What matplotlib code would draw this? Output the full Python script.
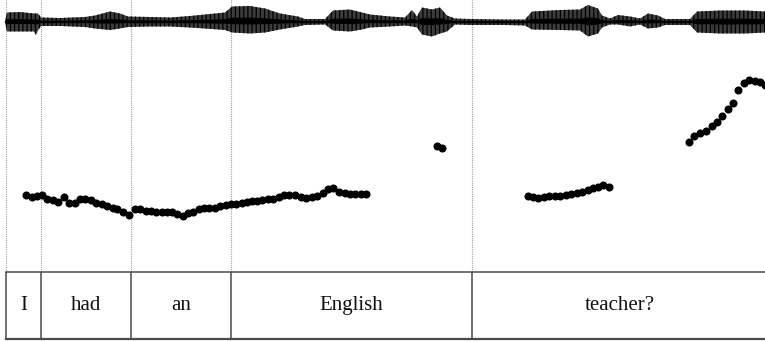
import matplotlib
matplotlib.use("Agg")
import matplotlib.pyplot as plt
import numpy as np

# ---------------- data ----------------
# word tier (boundaries in seconds) and labels
words = ["I", "had", "an", "English", "teacher?"]
word_bounds = [0.015, 0.1025, 0.3275, 0.5775, 1.18, 1.92]

# pitch track segments (time s, F0 Hz)
p1_t = [0.065, 0.079, 0.092, 0.104, 0.118, 0.132, 0.146, 0.161, 0.173, 0.188,
        0.200, 0.213, 0.227, 0.240, 0.254, 0.267, 0.282, 0.293, 0.308, 0.322]
p1_f = [216, 213, 215, 216, 209, 207, 204, 213, 201, 202,
        209, 208, 206, 202, 199, 196, 193, 190, 184, 179]

p2_t = [0.338, 0.350, 0.364, 0.378, 0.390, 0.404, 0.417, 0.429, 0.443, 0.457,
        0.471, 0.483, 0.498, 0.510, 0.523, 0.538, 0.550, 0.564, 0.578, 0.590,
        0.604, 0.617, 0.629, 0.642, 0.656, 0.671, 0.683, 0.698, 0.711, 0.723,
        0.738, 0.752, 0.765, 0.779, 0.793, 0.807, 0.819, 0.833, 0.848, 0.863,
        0.875, 0.888, 0.902, 0.915]
p2_f = [190, 190, 187, 186, 185, 185, 185, 184, 181, 178,
        183, 185, 191, 192, 192, 193, 195, 198, 200, 200,
        201, 203, 205, 205, 207, 209, 209, 213, 216, 216,
        216, 212, 211, 212, 214, 219, 227, 228, 222, 219,
        218, 218, 217, 218]

p3_t = [1.092, 1.104]
p3_f = [305, 303]

p4_t = [1.319, 1.333, 1.346, 1.360, 1.373, 1.388, 1.400, 1.414, 1.428, 1.442,
        1.456, 1.469, 1.483, 1.496, 1.508, 1.523]
p4_f = [214, 212, 211, 213, 214, 215, 215, 216, 218, 220,
        222, 225, 228, 231, 235, 230]

p5_t = [1.723, 1.736, 1.750, 1.764, 1.779, 1.792, 1.806, 1.819, 1.833, 1.846,
        1.859, 1.873, 1.887, 1.900, 1.913]
p5_f = [314, 324, 329, 333, 342, 350, 361, 374, 385, 408,
        421, 427, 425, 423, 418]

# waveform envelope (time s, positive / negative amplitude)
wave_t = [0.0125, 0.0175, 0.050, 0.085, 0.090, 0.095, 0.1025, 0.150, 0.2125, 0.2375,
          0.275, 0.300, 0.320, 0.375, 0.425, 0.475, 0.5125, 0.5625, 0.580, 0.625,
          0.6625, 0.700, 0.745, 0.7625, 0.8125, 0.8325, 0.875, 0.905, 0.925, 0.975,
          1.0125, 1.030, 1.0425, 1.055, 1.080, 1.100, 1.1175, 1.1375, 1.175, 1.2625,
          1.3125, 1.330, 1.400, 1.450, 1.470, 1.495, 1.505, 1.525, 1.545, 1.575,
          1.600, 1.620, 1.645, 1.6625, 1.725, 1.7425, 1.800, 1.8625, 1.9125]
wave_hi = [0, 9, 9.5, 8, 8, 8, 4, 3.5, 4.5, 6,
           10, 8, 5, 4.5, 4, 5.5, 7, 9, 15, 15.5,
           13, 8, 5, 2.5, 2.5, 11, 12, 9, 7, 5,
           4, 11.5, 5, 14, 12, 14, 6, 3, 2.5, 2,
           2, 10, 11.5, 12, 16.5, 13, 6, 3, 6.5, 5,
           3, 8, 6, 2.5, 2.5, 10, 11, 11, 10]
wave_lo = [0, 10, 10, 10, 13.5, 9, 4.5, 4.5, 5.5, 7,
           8.5, 7, 5.5, 5, 5, 6, 7, 8.5, 11, 12,
           11, 8, 5, 3.5, 3, 9, 10, 8, 6, 5,
           4, 5, 6, 13, 15, 12, 10, 3, 3.5, 3.5,
           4, 8, 8.5, 9, 15, 12, 6, 3, 3, 5,
           3, 7, 6, 3.5, 3.5, 11, 12, 12, 11]

# ---------------- figure ----------------
W, H = 765, 341
fig = plt.figure(figsize=(W / 100, H / 100), dpi=100)
xmax = W / 400.0
plt.rcParams["hatch.linewidth"] = 0.9
plt.rcParams["hatch.color"] = "#000000"

def frac(px):
    return px / H

# pitch axes covers px 0..272 from top
ax_p = fig.add_axes([0, 1 - frac(272), 1, frac(272)])
ax_p.set_xlim(0, xmax)
hz_per_px = 425 / 232.0
ax_p.set_ylim(75, 500 + 40 * hz_per_px)
ax_p.axis("off")

for b in word_bounds[:-1]:
    ax_p.axvline(b, color="#a0a0a0", lw=0.8, ls=(0, (1, 1)), zorder=1)

for tt, ff in [(p1_t, p1_f), (p2_t, p2_f), (p3_t, p3_f), (p4_t, p4_f), (p5_t, p5_f)]:
    ax_p.plot(tt, ff, "o", color="black", ms=5.8, mew=0, zorder=3, clip_on=False)

# waveform axes covers px 0..42
ax_w = fig.add_axes([0, 1 - frac(43), 1, frac(43)])
ax_w.set_xlim(0, xmax)
ax_w.set_ylim(-21.5, 21.5)
ax_w.patch.set_alpha(0)
ax_w.axis("off")
wt = np.array(wave_t)
ax_w.fill_between(wt, np.array(wave_hi), -np.array(wave_lo), facecolor="#3c3c3c",
                  edgecolor="#000000", hatch="||||", lw=0.0, zorder=2)
ax_w.fill_between(wt, 0.25 * np.array(wave_hi), -0.25 * np.array(wave_lo),
                  facecolor="#000000", lw=0, zorder=3)
ax_w.plot([wt[0], wt[-1]], [0, 0], color="#000000", lw=1.0, zorder=3)

# word tier covers px 272..339
ax_t = fig.add_axes([0, 1 - frac(339), 1, frac(339 - 272)])
ax_t.set_xlim(0, xmax)
ax_t.set_ylim(0, 1)
ax_t.axis("off")
lc = "#4a4a4a"
ax_t.plot([word_bounds[0], word_bounds[-1]], [1, 1], color=lc, lw=1.1, clip_on=False)
ax_t.plot([word_bounds[0], word_bounds[-1]], [0, 0], color=lc, lw=1.6, clip_on=False)
for b in word_bounds[:-1]:
    ax_t.plot([b, b], [0, 1], color=lc, lw=1.1)
for i, w in enumerate(words):
    cx = (word_bounds[i] + word_bounds[i + 1]) / 2
    ax_t.text(cx, 0.5, w, ha="center", va="center", fontsize=15,
              family="Liberation Serif", color="#111111")

fig.savefig("out.png", dpi=100)
